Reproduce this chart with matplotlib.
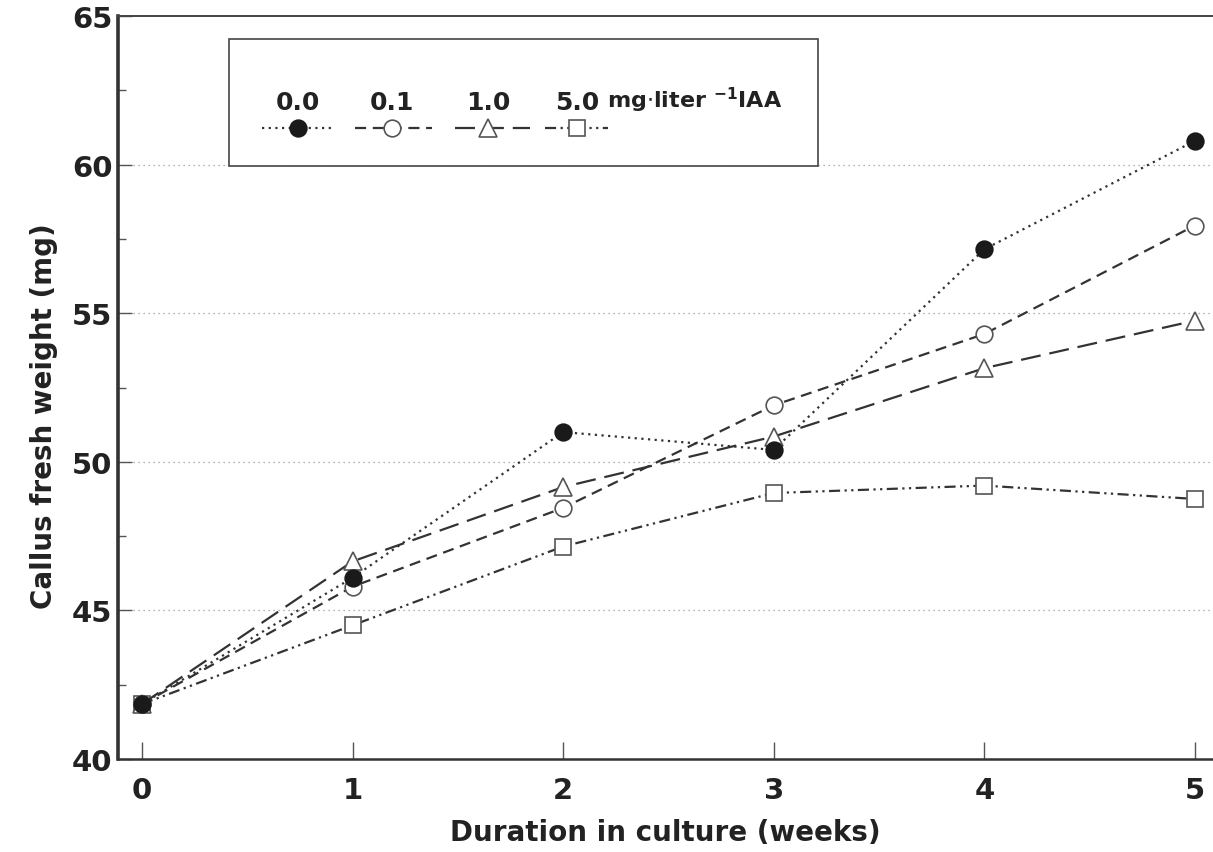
import matplotlib.pyplot as plt
from matplotlib.lines import Line2D
from matplotlib.patches import Rectangle
from matplotlib.ticker import MultipleLocator

# Werte
weeks = [0, 1, 2, 3, 4, 5]
iaa_00 = [41.85, 46.1, 51.0, 50.4, 57.15, 60.8]
iaa_01 = [41.85, 45.8, 48.45, 51.9, 54.3, 57.95]
iaa_10 = [41.85, 46.65, 49.15, 50.85, 53.15, 54.75]
iaa_50 = [41.85, 44.5, 47.15, 48.95, 49.2, 48.75]
konz = ["0.0", "0.1", "1.0", "5.0"]

plt.rcParams['font.family'] = ['DejaVu Sans']

fig = plt.figure(figsize=(12.13, 8.53), dpi=100)
ax = fig.add_axes([118 / 1213, 1 - 760 / 853, 1 - 118 / 1213, (760 - 17) / 853])

lc = '#333333'
mc = '#555555'
# (werte, linienstil, marker, füllung, rand, größe, zorder)
stil = [
    (iaa_00, (0, (1, 2)), 'o', '#1a1a1a', '#1a1a1a', 12, 6),
    (iaa_01, (0, (5, 3)), 'o', 'white', mc, 12, 4),
    (iaa_10, (0, (9, 4)), '^', 'white', mc, 13, 4),
    (iaa_50, (0, (5, 2, 1, 2, 1, 2)), 's', 'white', mc, 11, 3),
]
for werte, ls, m, fc, ec, ms, z in stil:
    ax.plot(weeks, werte, color=lc, linestyle=ls, linewidth=1.6, marker=m,
            markersize=ms, markerfacecolor=fc, markeredgecolor=ec,
            markeredgewidth=1.2, zorder=z)

ax.set_xlim(-0.114, 5.086)
ax.set_ylim(40, 65)
ax.set_xticks(weeks)
ax.yaxis.set_major_locator(MultipleLocator(5))
ax.yaxis.set_minor_locator(MultipleLocator(2.5))
ax.tick_params(axis='both', which='both', direction='in', color='#555555')
ax.tick_params(axis='y', which='major', length=10, width=1, pad=4)
ax.tick_params(axis='y', which='minor', length=6, width=1)
ax.tick_params(axis='x', which='major', length=12, width=1, pad=12)
ax.tick_params(axis='both', labelsize=21)
for lab in ax.get_xticklabels() + ax.get_yticklabels():
    lab.set_fontweight('bold')
    lab.set_color('#222222')

for y in [45, 50, 55, 60]:
    ax.axhline(y, color='#999999', linestyle=(0, (1, 3)), linewidth=0.9, zorder=1)

ax.spines['left'].set_linewidth(2.6)
ax.spines['left'].set_color('#333333')
ax.spines['bottom'].set_linewidth(1.8)
ax.spines['bottom'].set_color('#333333')
ax.spines['top'].set_linewidth(1.4)
ax.spines['top'].set_color('#444444')
ax.spines['right'].set_visible(False)

ax.set_xlabel('Duration in culture (weeks)', fontsize=20, fontweight='bold',
              color='#222222', labelpad=10)
ax.set_ylabel('Callus fresh weight (mg)', fontsize=20, fontweight='bold',
              color='#222222')
ax.yaxis.set_label_coords(-0.055, 0.463)

# Legende von Hand, Beschriftung über den Linienmustern
def ax_x(px):
    return (px - 118) / 1095

def ax_y(py):
    return (760 - py) / 743

ax.add_patch(Rectangle((ax_x(229), ax_y(167)), ax_x(818) - ax_x(229),
                       ax_y(40) - ax_y(167), transform=ax.transAxes,
                       fill=True, facecolor='white', edgecolor='#444444',
                       linewidth=1.2, zorder=7))
text_x = [298, 392, 488, 577]
key_x = [(262, 334), (355, 432), (455, 530), (545, 608)]
for k, tx, (x0, x1), (_, ls, m, fc, ec, ms, z) in zip(konz, text_x, key_x, stil):
    ax.text(ax_x(tx), ax_y(103), k, transform=ax.transAxes, ha='center',
            va='center', fontsize=18, fontweight='bold', color='#222222', zorder=8)
    ax.add_line(Line2D([ax_x(x0), ax_x(x1)], [ax_y(129), ax_y(129)],
                       transform=ax.transAxes, color=lc, linestyle=ls,
                       linewidth=1.6, zorder=8))
    ax.add_line(Line2D([ax_x(tx)], [ax_y(129)], transform=ax.transAxes,
                       marker=m, markersize=ms, markerfacecolor=fc,
                       markeredgecolor=ec, markeredgewidth=1.2, zorder=9))
ax.text(ax_x(607), ax_y(100), r'mg$\cdot$liter $^{\mathbf{-1}}$IAA',
        transform=ax.transAxes, ha='left', va='center', fontsize=16,
        fontweight='bold', color='#222222', zorder=8)

fig.savefig('out.png', dpi=100)
